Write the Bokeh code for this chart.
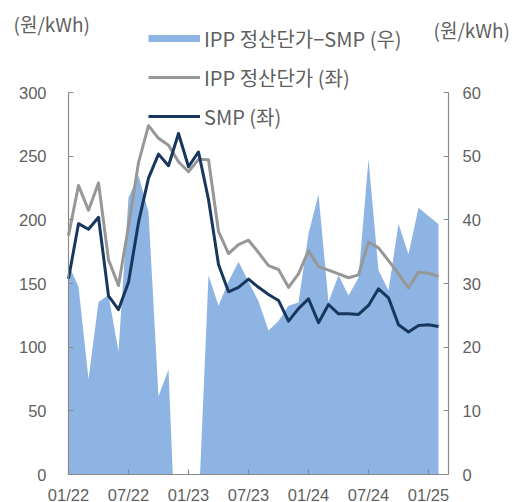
from bokeh.plotting import figure
from bokeh.models import (Range1d, LinearAxis, FixedTicker, Label, Legend, LegendItem,
                          ColumnDataSource, BoxAnnotation)
from bokeh.embed import file_html
from bokeh.resources import INLINE

# ---- data (monthly, 2022-01 .. 2025-02) ----
tick_labels = ["01/22", "07/22", "01/23", "07/23", "01/24", "07/24", "01/25"]
ipp = [187.6, 227.0, 207.5, 229.0, 168.7, 148.4, 195.0, 245.0, 274.0, 264.0,
       258.5, 245.6, 237.8, 247.5, 247.2, 191.0, 173.5, 180.5, 184.0, 174.3,
       164.0, 161.0, 147.0, 157.6, 175.8, 163.3, 160.5, 157.5, 154.5, 156.8,
       182.4, 178.0, 168.0, 157.6, 146.6, 158.9, 158.1, 155.5]
smp = [153.7, 197.0, 192.6, 202.0, 140.3, 129.5, 151.0, 198.0, 232.7, 251.6,
       242.5, 267.8, 241.7, 253.3, 216.0, 165.0, 143.5, 147.0, 153.5, 147.0,
       141.4, 136.7, 120.4, 130.3, 138.0, 119.2, 133.5, 126.2, 126.2, 125.7,
       132.8, 145.8, 138.8, 117.6, 111.9, 117.1, 117.6, 116.3]
spread = [33.0, 29.5, 15.0, 27.1, 28.2, 19.3, 43.5, 47.0, 41.2, 12.3,
          16.5, -22.0, -4.0, -5.8, 31.3, 26.5, 30.3, 33.4, 30.3, 27.2,
          22.6, 24.1, 26.5, 27.0, 37.8, 44.0, 27.1, 31.3, 28.1, 30.9,
          49.5, 32.1, 28.9, 39.4, 34.6, 41.9, 40.6, 39.3]
left_ticks = [0, 50, 100, 150, 200, 250, 300]
right_ticks = [0, 10, 20, 30, 40, 50, 60]

n = len(ipp)
x = list(range(n))
tick_pos = [6 * i for i in range(len(tick_labels))]
src = ColumnDataSource(dict(x=x, ipp=ipp, smp=smp, spread=spread))

AREA = "#8EB4E3"
GRAY = "#979797"
NAVY = "#17375E"
TXT = "#5f5f5f"
AX = "#8a8a8a"
KFONT = "Noto Sans CJK KR"

W, H = 517, 502
# pixel geometry of the plotting box inside the canvas
X0, X1 = 68, 448        # x = 0 .. n
Y0, Y300 = 474, 92      # left value 0 .. 300
sx = (X1 - X0) / n
sy = (Y0 - Y300) / left_ticks[-1]
xr = Range1d(-X0 / sx, (W - X0) / sx)
yr = Range1d(-(H - Y0) / sy, Y0 / sy)
ratio = left_ticks[-1] / right_ticks[-1]

p = figure(width=W, height=H, output_backend="svg", toolbar_location=None,
           title=None, x_range=xr, y_range=yr,
           min_border_left=0, min_border_right=0, min_border_top=0,
           min_border_bottom=0)
p.outline_line_color = None
p.xgrid.visible = False
p.ygrid.visible = False
p.extra_y_ranges = {"right": Range1d(yr.start / ratio, yr.end / ratio)}

area = p.varea(x="x", y1=0, y2="spread", source=src, y_range_name="right",
               fill_color=AREA, fill_alpha=1.0)
gline = p.line("x", "ipp", source=src, line_color=GRAY, line_width=3, line_join="round")
nline = p.line("x", "smp", source=src, line_color=NAVY, line_width=3, line_join="round")
# hidden renderer used only for the legend swatch of the area series
proxy = p.line("x", "spread", source=src, y_range_name="right",
               line_color=AREA, line_width=7, visible=False)

# hide anything below the value axis minimum (as the plot area does)
p.add_layout(BoxAnnotation(top=0, fill_color="white", fill_alpha=1.0,
                           line_color=None, level="glyph"))

# axes
xa = p.xaxis[0]
xa.fixed_location = 0
xa.bounds = (0, n)
xa.ticker = FixedTicker(ticks=tick_pos)
xa.major_label_overrides = {pos: lab for pos, lab in zip(tick_pos, tick_labels)}
ya = p.yaxis[0]
ya.fixed_location = 0
ya.bounds = (0, left_ticks[-1])
ya.ticker = FixedTicker(ticks=left_ticks)
ra = LinearAxis(y_range_name="right", ticker=FixedTicker(ticks=right_ticks),
                fixed_location=n, bounds=(0, right_ticks[-1]))
p.add_layout(ra, "right")

for ax, standoff in ((xa, 11), (ya, 22), (ra, 14)):
    ax.axis_line_color = AX
    ax.axis_line_width = 1.2
    ax.major_tick_line_color = AX
    ax.major_tick_line_width = 1.2
    ax.major_tick_in = 5
    ax.major_tick_out = 0
    ax.minor_tick_line_color = None
    ax.major_label_text_font = "Liberation Sans"
    ax.major_label_text_font_size = "16.5px"
    ax.major_label_text_color = TXT
    ax.major_label_standoff = standoff

# unit labels
for lx, ly in ((-5.5, 354.2), (36.5, 349.5)):
    p.add_layout(Label(x=lx, y=ly, text="(원/kWh)", text_font=KFONT,
                       text_font_size="19px", text_color=TXT,
                       text_baseline="middle", text_align="left"))

legend = Legend(items=[LegendItem(label="IPP 정산단가−SMP (우)", renderers=[proxy]),
                       LegendItem(label="IPP 정산단가 (좌)", renderers=[gline]),
                       LegendItem(label="SMP (좌)", renderers=[nline])],
                location=(148, 371), orientation="vertical",
                glyph_width=52, glyph_height=30, label_height=30, spacing=9,
                padding=0, margin=0, label_standoff=4,
                background_fill_alpha=0, border_line_color=None,
                inactive_fill_alpha=0,
                label_text_font=KFONT, label_text_font_size="20px",
                label_text_color=TXT)
p.add_layout(legend)

open("out.html", "w").write(file_html(p, INLINE))
